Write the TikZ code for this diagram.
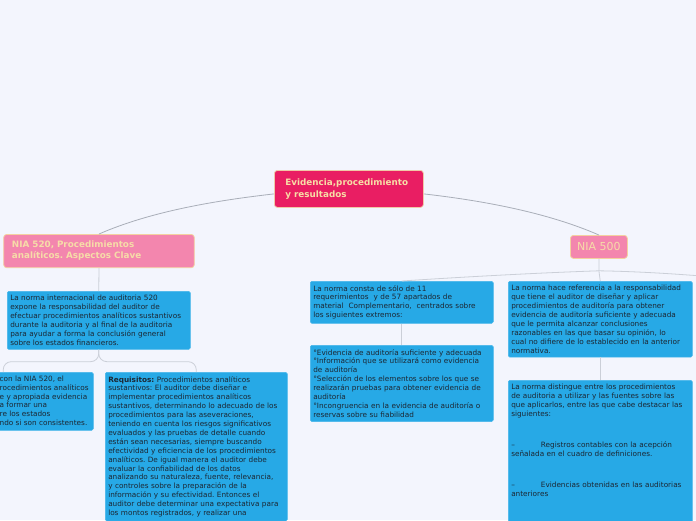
\documentclass[tikz,border=0pt]{standalone}
\usepackage{fontspec}
\setmainfont{DejaVu Sans}
\usepackage{tikz}
\definecolor{mapbg}{HTML}{F3F5FD}
\definecolor{topicfill}{HTML}{E91E63}
\definecolor{topicedge}{HTML}{F0C8A8}
\definecolor{topictext}{HTML}{F7DDA6}
\definecolor{subfill}{HTML}{F386AE}
\definecolor{subedge}{HTML}{F3D1A0}
\definecolor{subtext}{HTML}{F6DCA8}
\definecolor{notefill}{HTML}{27A9E6}
\definecolor{notetext}{HTML}{1C2733}
\definecolor{linkgray}{HTML}{CBCFD8}
\definecolor{maingray}{HTML}{A9AEB8}
\newcommand\bodyfont{\fontsize{7.3}{8.9}\selectfont}
\newcommand\titlefont{\fontsize{8.8}{11.7}\selectfont\bfseries}
\newcommand\subfont{\fontsize{8.8}{11}\selectfont\bfseries}
\frenchspacing

\begin{document}
\begin{tikzpicture}[x=1pt,y=-1pt,every node/.style={font=\bodyfont},
  topic/.style={draw=topicedge,fill=topicfill,text=topictext,rounded corners=3pt,anchor=north west,align=left,line width=0.8pt},
  subtopic/.style={draw=subedge,fill=subfill,text=subtext,rounded corners=3pt,anchor=north west,line width=0.8pt},
  notebox/.style={draw=notefill!85!white,fill=notefill,text=notetext,rounded corners=1.5pt,anchor=north west,align=left,inner xsep=3pt,inner ysep=4pt,line width=0.5pt},
  link/.style={draw=linkgray,line width=0.8pt},
  mainlink/.style={draw=maingray,line width=0.8pt}]
  \useasboundingbox (0,0) rectangle (696,520);
  \clip (0,0) rectangle (696,520);
  \fill[mapbg] (0,0) rectangle (696,520);

  % central topic and the two standards
  \node[topic,font=\titlefont,text width=127pt,inner xsep=11pt,minimum height=37pt] (evid) at (274,170)
       {Evidencia,procedimiento\\y resultados};
  \node[subtopic,font=\subfont,align=left,text width=174pt,inner xsep=8.3pt,minimum height=33.3pt] (nia520) at (3.3,234)
       {NIA 520, Procedimientos\\analíticos. Aspectos Clave};
  \node[subtopic,font=\fontsize{11}{12}\selectfont,inner sep=0pt,minimum width=57pt,minimum height=23pt] (nia500) at (570,235) {NIA 500};

  % NIA 520 branch
  \node[notebox,text width=177pt] (def520) at (7,291)
       {La norma internacional de auditoria 520\\
        expone la responsabilidad del auditor de\\
        efectuar procedimientos analíticos sustantivos\\
        durante la auditoria y al final de la auditoria\\
        para ayudar a forma la conclusión general\\
        sobre los estados financieros.};
  \node[notebox,text width=174pt,minimum height=58pt] (conf520) at (-87,372) {};
  \node[anchor=north west,inner sep=0pt,align=left,text=notetext] (conf520text) at (-0.5,375.5)
       {con la NIA 520, el\\
        rocedimientos analíticos\\
        e y apropiada evidencia\\
        a formar una\\
        re los estados\\
        ndo si son consistentes.};
  \node[notebox,text width=176pt] (req520) at (105,372)
       {\textbf{Requisitos:} Procedimientos analíticos\\
        sustantivos: El auditor debe diseñar e\\
        implementar procedimientos analíticos\\
        sustantivos, determinando lo adecuado de los\\
        procedimientos para las aseveraciones,\\
        teniendo en cuenta los riesgos significativos\\
        evaluados y las pruebas de detalle cuando\\
        están sean necesarias, siempre buscando\\
        efectividad y eficiencia de los procedimientos\\
        analíticos. De igual manera el auditor debe\\
        evaluar la confiabilidad de los datos\\
        analizando su naturaleza, fuente, relevancia,\\
        y controles sobre la preparación de la\\
        información y su efectividad. Entonces el\\
        auditor debe determinar una expectativa para\\
        los montos registrados, y realizar una};

  % NIA 500 branch
  \node[notebox,text width=177pt] (cons500) at (310,281)
       {La norma consta de sólo de 11\\
        requerimientos\ \ y de 57 apartados de\\
        material\ \ Complementario,\ \ centrados sobre\\
        los siguientes extremos:};
  \node[notebox,text width=177pt] (extr500) at (310,345)
       {°Evidencia de auditoría suficiente y adecuada\\
        °Información que se utilizará como evidencia\\
        de auditoría\\
        °Selección de los elementos sobre los que se\\
        realizarán pruebas para obtener evidencia de\\
        auditoría\\
        °Incongruencia en la evidencia de auditoría o\\
        reservas sobre su fiabilidad};
  \node[notebox,text width=178pt] (resp500) at (508,281)
       {La norma hace referencia a la responsabilidad\\
        que tiene el auditor de diseñar y aplicar\\
        procedimientos de auditoría para obtener\\
        evidencia de auditoría suficiente y adecuada\\
        que le permita alcanzar conclusiones\\
        razonables en las que basar su opinión, lo\\
        cual no difiere de lo establecido en la anterior\\
        normativa.};
  \node[notebox,text width=178pt] (proc500) at (508,380)
       {La norma distingue entre los procedimientos\\
        de auditoria a utilizar y las fuentes sobre las\\
        que aplicarlos, entre las que cabe destacar las\\
        siguientes:\\[22.5pt]
        –\hspace*{26pt}Registros contables con la acepción\\
        señalada en el cuadro de definiciones.\\[22pt]
        –\hspace*{26pt}Evidencias obtenidas en las auditorias\\
        anteriores\\[30pt]\mbox{}};

  % connectors
  \draw[mainlink] ([yshift=-5pt]evid.west) .. controls +(-57,6.5) and +(52.7,-23) .. (nia520.north);
  \draw[mainlink] ([yshift=-5pt]evid.east) .. controls +(57,6.5) and +(-52.7,-23) .. (nia500.north);
  \draw[link] (nia520.south) -- (def520.north);
  \draw[link,rounded corners=8pt] (def520.south) -- ++(0,12) -| (conf520.north);
  \draw[link,rounded corners=8pt] (def520.south) -- ++(0,12) -| (req520.north);
  \coordinate (split500) at ([yshift=-12pt]nia500.south);
  \coordinate (next500) at (800,285);
  \draw[link] (nia500.south) -- (split500) -- (resp500.north);
  \draw[link] (split500) .. controls +(-60,2) and +(60,-4) .. (cons500.north);
  \draw[link] (split500) .. controls +(60,1) and +(-80,-8) .. (next500);
  \draw[link] (cons500.south) -- (extr500.north);
  \draw[link] (resp500.south) -- (proc500.north);
\end{tikzpicture}
\end{document}
